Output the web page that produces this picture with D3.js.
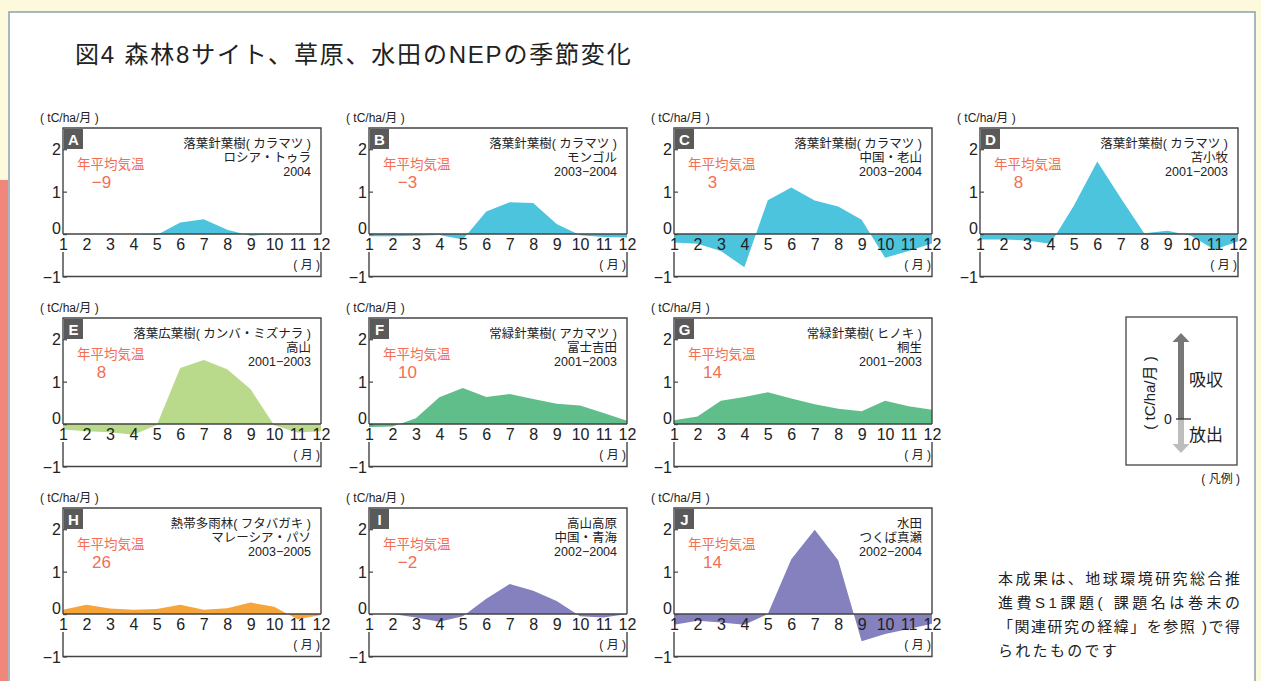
<!DOCTYPE html>
<html>
<head>
<meta charset="utf-8">
<script src="https://cdn.jsdelivr.net/npm/d3@7"></script>
<style>
body { margin: 0; background: #fdf9dc; }
svg { display: block; font-family: "Liberation Sans", "Noto Sans CJK JP", sans-serif; }
</style>
</head>
<body>
<svg id="chart" width="1261" height="681"></svg>
<script>
// monthly NEP (tC/ha/month)
var months = [1, 2, 3, 4, 5, 6, 7, 8, 9, 10, 11, 12];
var yTicks = [-1, 0, 1, 2];
var panelIds = ["A", "B", "C", "D", "E", "F", "G", "H", "I", "J"];
var forestTypes = ["落葉針葉樹( カラマツ )", "落葉針葉樹( カラマツ )", "落葉針葉樹( カラマツ )", "落葉針葉樹( カラマツ )",
  "落葉広葉樹( カンバ・ミズナラ )", "常緑針葉樹( アカマツ )", "常緑針葉樹( ヒノキ )",
  "熱帯多雨林( フタバガキ )", "高山高原", "水田"];
var sites = ["ロシア・トゥラ", "モンゴル", "中国・老山", "苫小牧", "高山", "富士吉田", "桐生", "マレーシア・パソ", "中国・青海", "つくば真瀬"];
var periods = ["2004", "2003−2004", "2003−2004", "2001−2003", "2001−2003", "2001−2003", "2001−2003", "2003−2005", "2002−2004", "2002−2004"];
var meanTemps = ["−9", "−3", "3", "8", "8", "10", "14", "26", "−2", "14"];

var nepA = [0, 0, 0, 0, -0.02, 0.27, 0.35, 0.1, -0.04, 0, 0, 0];
var nepB = [-0.05, -0.05, -0.04, -0.02, -0.13, 0.53, 0.75, 0.73, 0.24, -0.03, -0.07, -0.08];
var nepC = [-0.2, -0.23, -0.4, -0.78, 0.8, 1.1, 0.79, 0.65, 0.34, -0.56, -0.4, -0.22];
var nepD = [-0.13, -0.13, -0.15, -0.23, 0.67, 1.71, 0.85, 0.02, 0.08, -0.04, -0.37, -0.17];
var nepE = [-0.13, -0.17, -0.19, -0.25, -0.02, 1.32, 1.51, 1.29, 0.82, -0.03, -0.2, -0.17];
var nepF = [-0.07, -0.06, 0.14, 0.63, 0.85, 0.64, 0.71, 0.59, 0.48, 0.44, 0.26, 0.08];
var nepG = [0.09, 0.18, 0.55, 0.64, 0.75, 0.6, 0.47, 0.36, 0.3, 0.55, 0.42, 0.34];
var nepH = [0.1, 0.22, 0.13, 0.1, 0.12, 0.22, 0.1, 0.14, 0.27, 0.17, -0.12, -0.02];
var nepI = [0, 0, -0.08, -0.18, -0.05, 0.36, 0.71, 0.55, 0.31, -0.05, -0.08, 0];
var nepJ = [-0.25, -0.16, -0.2, -0.25, 0, 1.29, 1.99, 1.27, -0.64, -0.47, -0.35, -0.23];
var nepSeries = [nepA, nepB, nepC, nepD, nepE, nepF, nepG, nepH, nepI, nepJ];

var fills = ["#4cc4de", "#4cc4de", "#4cc4de", "#4cc4de", "#b9da8a", "#5fbe8a", "#5fbe8a", "#f5a53a", "#8580be", "#8580be"];

var svg = d3.select("#chart");

// page frame
svg.append("rect").attr("x", 9).attr("y", 12).attr("width", 1246).attr("height", 680)
    .attr("fill", "#fff").attr("stroke", "#8aa0ae").attr("stroke-width", 1.5);
svg.append("rect").attr("x", 0).attr("y", 180).attr("width", 8).attr("height", 501).attr("fill", "#f0877a");

svg.append("text").attr("x", 75).attr("y", 63)
    .attr("font-size", 24).attr("letter-spacing", 1.8).attr("fill", "#222")
    .text("図4 森林8サイト、草原、水田のNEPの季節変化");

// panel grid slots: A-D on row 1, E-G on row 2, H-J on row 3
var slotCol = [0, 1, 2, 3, 0, 1, 2, 0, 1, 2],
    slotRow = [0, 0, 0, 0, 1, 1, 1, 2, 2, 2];
var colX = [63, 369, 674, 980],
    rowY = [128, 318, 508],
    width = 258;

var x = d3.scaleLinear().domain([1, 12]).range([0, width]),
    y = d3.scaleLinear().domain([-1, 2.5]).range([148.5, 0]);
var gap = 18;

var area = d3.area()
    .x(function(d, i) { return x(months[i]); })
    .y0(y(0))
    .y1(function(d) { return y(d); });

nepSeries.forEach(function(vals, k) {
  var g = svg.append("g")
      .attr("transform", "translate(" + colX[slotCol[k]] + "," + rowY[slotRow[k]] + ")");

  g.append("path").datum(vals).attr("d", area).attr("fill", fills[k]);

  // frame, broken at the month labels
  g.append("path")
      .attr("d", "M0," + y(0) + "V0H" + width + "V" + y(0) + "M0," + y(0) + "H" + width +
        "M0," + (y(0) + gap) + "V" + y(-1) + "H" + width + "V" + (y(0) + gap))
      .attr("fill", "none").attr("stroke", "#444").attr("stroke-width", 1.4);

  var xa = g.append("g").attr("transform", "translate(0," + y(0) + ")")
      .call(d3.axisBottom(x).tickValues(months).tickSize(0).tickPadding(5).tickFormat(d3.format("d")));
  xa.select(".domain").remove();
  xa.selectAll("text").attr("font-size", 16).attr("fill", "#222").attr("font-family", null);

  var ya = g.append("g")
      .call(d3.axisLeft(y).tickValues(yTicks).tickSizeInner(-4).tickSizeOuter(0).tickPadding(2)
        .tickFormat(function(d) { return d < 0 ? "−" + (-d) : d; }));
  ya.select(".domain").remove();
  ya.selectAll("line").attr("stroke", "#444").attr("stroke-width", 1.2);
  ya.selectAll("text").attr("font-size", 16).attr("fill", "#222").attr("font-family", null)
      .attr("dy", function(d) { return d === 0 ? "-0.05em" : "0.36em"; });

  g.append("text").attr("x", -23).attr("y", -6).attr("font-size", 12).attr("fill", "#222")
      .text("( tC/ha/月 )");
  g.append("text").attr("x", width - 1).attr("y", y(-1) - 8).attr("text-anchor", "end")
      .attr("font-size", 12).attr("fill", "#222").text("( 月 )");

  g.append("rect").attr("x", 1).attr("y", 1).attr("width", 19).attr("height", 20).attr("fill", "#5a5a5a");
  g.append("text").attr("x", 10.5).attr("y", 17).attr("text-anchor", "middle")
      .attr("font-size", 15).attr("font-weight", "bold").attr("fill", "#fff").text(panelIds[k]);

  var info = [forestTypes[k], sites[k], periods[k]];
  info.forEach(function(t, i) {
    g.append("text").attr("x", width - 10).attr("y", 20 + i * 14).attr("text-anchor", "end")
        .attr("font-size", 12.5).attr("fill", "#222").text(t);
  });

  g.append("text").attr("x", 14).attr("y", 41).attr("font-size", 13.5).attr("fill", "#f26f55").text("年平均気温");
  g.append("text").attr("x", 38.5).attr("y", 60).attr("text-anchor", "middle")
      .attr("font-size", 17).attr("fill", "#f26f55").text(meanTemps[k]);
});

// legend
var lg = svg.append("g");
lg.append("rect").attr("x", 1126).attr("y", 317).attr("width", 111).attr("height", 148)
    .attr("fill", "#fff").attr("stroke", "#444").attr("stroke-width", 1.3);
lg.append("path").attr("d", "M1181,333L1189.5,342H1184V419H1178V342H1172.5Z").attr("fill", "#777");
lg.append("path").attr("d", "M1181,453L1189.5,444H1184V419H1178V444H1172.5Z").attr("fill", "#bdbdbd");
lg.append("line").attr("x1", 1176).attr("x2", 1191).attr("y1", 419).attr("y2", 419)
    .attr("stroke", "#333").attr("stroke-width", 1.3);
lg.append("text").attr("x", 1168).attr("y", 424).attr("text-anchor", "middle").attr("font-size", 14).attr("fill", "#222").text("0");
lg.append("text").attr("x", 1189).attr("y", 386).attr("font-size", 17).attr("fill", "#222").text("吸収");
lg.append("text").attr("x", 1189).attr("y", 441).attr("font-size", 17).attr("fill", "#222").text("放出");
lg.append("text").attr("transform", "translate(1155,393) rotate(-90)").attr("text-anchor", "middle")
    .attr("font-size", 15).attr("fill", "#222").text("( tC/ha/月 )");
lg.append("text").attr("x", 1240).attr("y", 483).attr("text-anchor", "end").attr("font-size", 12).attr("fill", "#222").text("( 凡例 )");

// note
var noteLines = ["本成果は、地球環境研究総合推", "進費S1課題( 課題名は巻末の", "「関連研究の経緯」を参照 )で得", "られたものです"];
noteLines.forEach(function(t, i) {
  var tx = svg.append("text").attr("x", 998).attr("y", 584 + i * 24)
      .attr("font-size", 15).attr("fill", "#222").text(t);
  if (i < 3) tx.attr("textLength", 242).attr("lengthAdjust", "spacing");
  else tx.attr("letter-spacing", 2.3);
});
</script>
</body>
</html>
